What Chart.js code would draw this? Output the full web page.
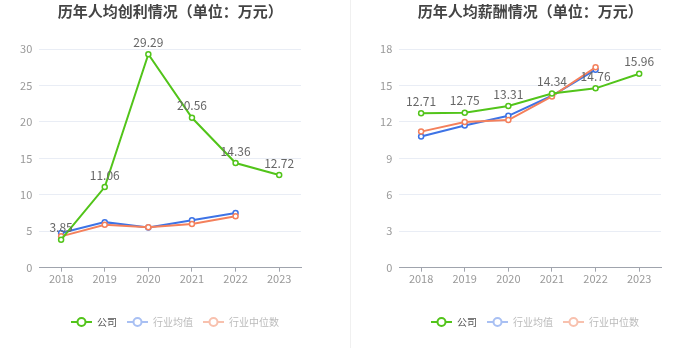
<!DOCTYPE html>
<html>
<head>
<meta charset="utf-8">
<script src="https://cdn.jsdelivr.net/npm/chart.js@4/dist/chart.umd.min.js"></script>
<style>
  html, body { margin: 0; padding: 0; background: #fff; overflow: hidden; }
  #wrap { position: relative; width: 700px; height: 359px; overflow: hidden; }
  #c1 { position: absolute; left: 0; top: 0; }
  #c2 { position: absolute; left: 360px; top: 0; }
  #sep { position: absolute; left: 350px; top: 0; width: 1px; height: 348px; background: #f0f0f0; }
</style>
</head>
<body>
<div id="wrap">
  <canvas id="c1" width="350" height="359"></canvas>
  <div id="sep"></div>
  <canvas id="c2" width="350" height="359"></canvas>
</div>
<script>
const years = ['2018', '2019', '2020', '2021', '2022', '2023'];
const seriesNames = ['公司', '行业均值', '行业中位数'];

// 人均创利（万元）
const profitCompany = [3.85, 11.06, 29.29, 20.56, 14.36, 12.72];
const profitAvg = [4.75, 6.25, 5.5, 6.5, 7.5, null];
const profitMedian = [4.3, 5.9, 5.55, 6.0, 7.05, null];

// 人均薪酬（万元）
const salaryCompany = [12.71, 12.75, 13.31, 14.34, 14.76, 15.96];
const salaryAvg = [10.8, 11.7, 12.5, 14.15, 16.3, null];
const salaryMedian = [11.2, 12.0, 12.15, 14.1, 16.5, null];

const FONT = "'Noto Sans CJK SC', 'Noto Sans', sans-serif";
const cores = ['#52c41a', '#3d73e6', '#f4805c'];
const coresLegenda = ['#52c41a', '#a9c0f3', '#f8c1ae'];
const textoLegenda = ['#555', '#bbb', '#bbb'];

function legendIcon(color) {
  const c = document.createElement('canvas');
  c.width = 21; c.height = 12;
  const g = c.getContext('2d');
  g.strokeStyle = color;
  g.lineWidth = 2;
  g.beginPath(); g.moveTo(0, 6); g.lineTo(21, 6); g.stroke();
  g.beginPath(); g.arc(10.5, 6, 4, 0, Math.PI * 2);
  g.fillStyle = '#fff'; g.fill(); g.stroke();
  return c;
}

const valueLabels = {
  id: 'valueLabels',
  afterDatasetsDraw(chart) {
    const ctx = chart.ctx;
    const meta = chart.getDatasetMeta(0);
    const vals = chart.data.datasets[0].data;
    ctx.save();
    ctx.font = '12px ' + FONT;
    ctx.fillStyle = '#666';
    ctx.textAlign = 'center';
    ctx.textBaseline = 'bottom';
    meta.data.forEach((pt, i) => {
      ctx.fillText(vals[i].toFixed(2), pt.x, pt.y - 6);
    });
    ctx.restore();
  }
};

function lineDataset(i, data) {
  return {
    label: seriesNames[i],
    data: data,
    borderColor: cores[i],
    backgroundColor: cores[i],
    borderWidth: 2,
    pointRadius: 2.5,
    pointBorderWidth: 1.5,
    pointBackgroundColor: '#fff',
    pointBorderColor: cores[i],
    tension: 0,
    order: [0, 2, 1][i]
  };
}

function criarGrafico(id, titulo, comp, media, mediana, yMax, passo) {
  return new Chart(document.getElementById(id).getContext('2d'), {
    type: 'line',
    data: {
      labels: years,
      datasets: [lineDataset(0, comp), lineDataset(1, media), lineDataset(2, mediana)]
    },
    plugins: [valueLabels],
    options: {
      responsive: false,
      animation: false,
      layout: { padding: { left: 0, right: 0, top: 0, bottom: 22 } },
      plugins: {
        title: {
          display: true,
          text: titulo,
          fullSize: false,
          color: '#444',
          font: { family: FONT, size: 15, weight: 'bold' },
          padding: { top: 2, bottom: 29 }
        },
        legend: {
          position: 'bottom',
          labels: {
            usePointStyle: true,
            pointStyleWidth: 21,
            boxHeight: 10,
            padding: 10,
            font: { family: FONT, size: 10 },
            generateLabels: () => seriesNames.map((n, i) => ({
              text: n,
              fillStyle: coresLegenda[i],
              strokeStyle: coresLegenda[i],
              fontColor: textoLegenda[i],
              pointStyle: legendIcon(coresLegenda[i]),
              lineWidth: 0,
              hidden: false,
              datasetIndex: i
            }))
          }
        },
        tooltip: { enabled: false }
      },
      scales: {
        x: {
          offset: true,
          grid: { display: true, offset: false, drawOnChartArea: false, tickLength: 4, tickColor: '#a0a4ad' },
          border: { color: '#a0a4ad' },
          ticks: { color: '#999', padding: 1, font: { family: FONT, size: 11 } },
          afterFit: (s) => { s.height = 39.3; }
        },
        y: {
          min: 0,
          max: yMax,
          grid: { color: '#e9edf5', drawTicks: false },
          border: { display: false },
          ticks: { stepSize: passo, color: '#999', padding: 7, font: { family: FONT, size: 11 } },
          afterFit: (s) => { s.width = 39.3; }
        },
        direita: {
          position: 'right',
          grid: { display: false },
          border: { display: false },
          ticks: { display: false },
          afterFit: (s) => { s.width = 49; }
        }
      }
    }
  });
}

criarGrafico('c1', '历年人均创利情况（单位：万元）', profitCompany, profitAvg, profitMedian, 30, 5);
criarGrafico('c2', '历年人均薪酬情况（单位：万元）', salaryCompany, salaryAvg, salaryMedian, 18, 3);
</script>
</body>
</html>
